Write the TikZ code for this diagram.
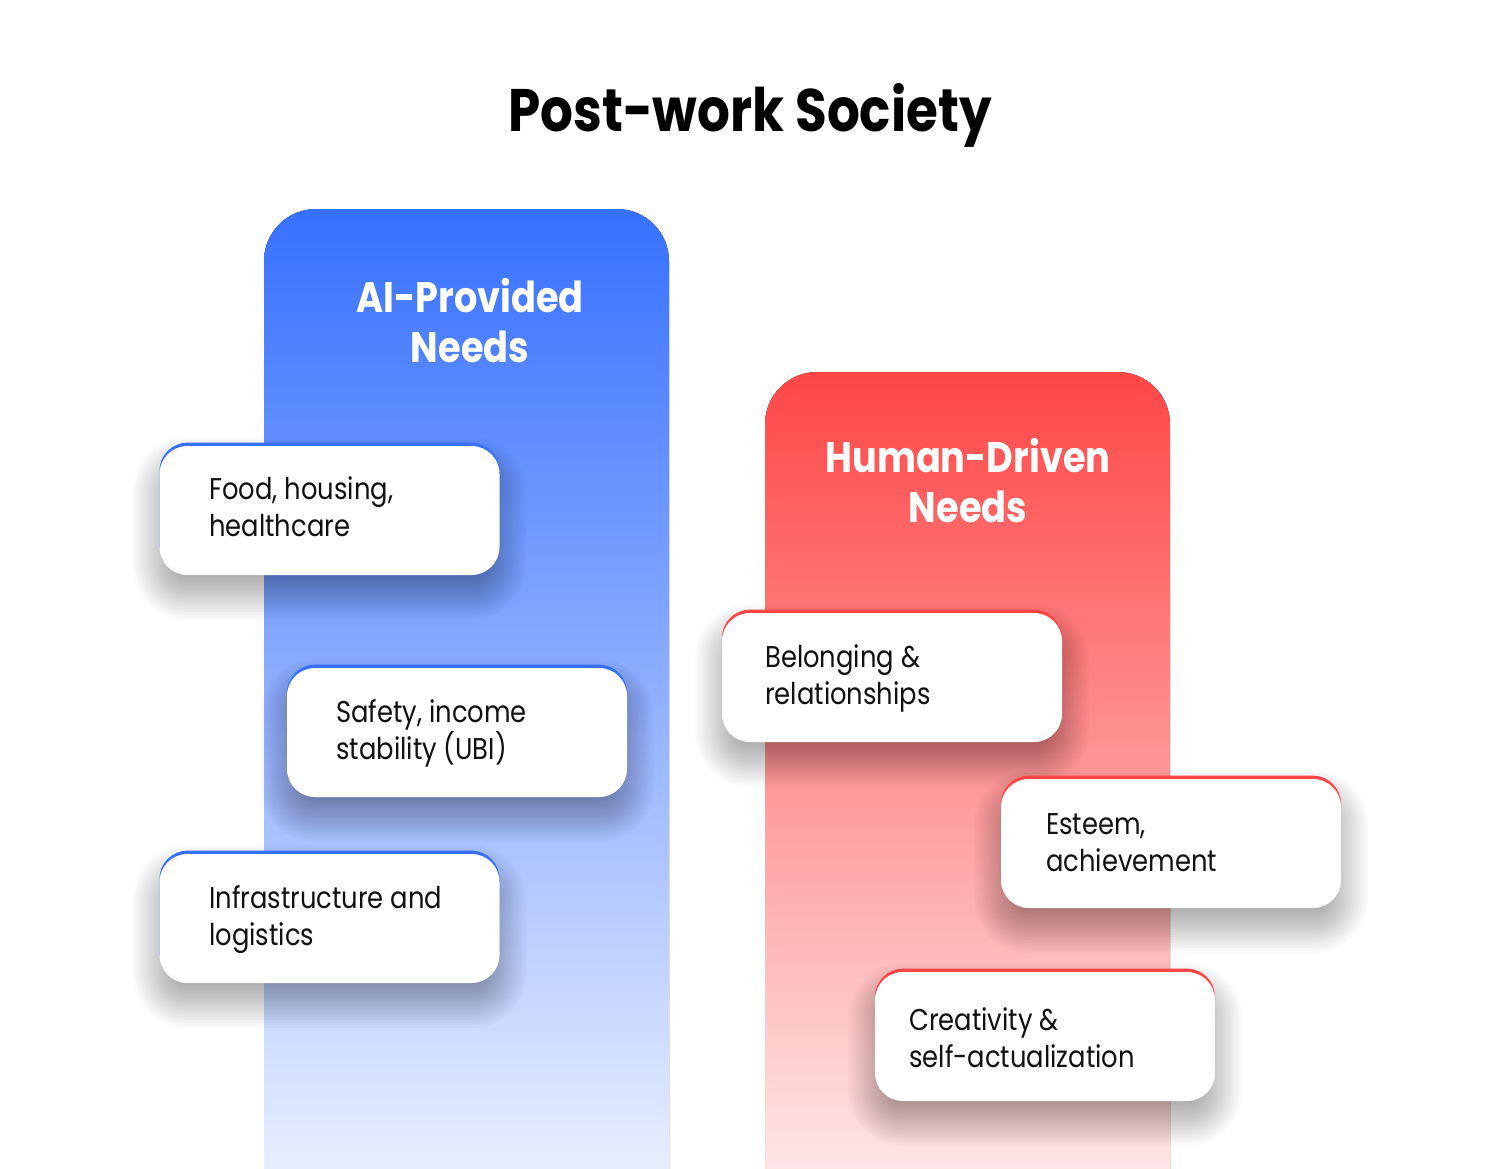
\documentclass[tikz,border=0pt]{standalone}
\usepackage{fontspec}
\setmainfont{Poppins}[FakeStretch=0.86]
\definecolor{aiblue}{RGB}{54,112,255}
\definecolor{aibluelight}{RGB}{244,247,255}
\definecolor{humanred}{RGB}{255,70,70}
\definecolor{humanredlight}{RGB}{255,244,244}
\definecolor{inkblack}{RGB}{17,17,17}
\pgfdeclarelayer{columns}
\pgfdeclarelayer{shade}
\pgfsetlayers{columns,shade,main}

\begin{document}
\begin{tikzpicture}[x=0.75pt, y=-0.75pt,
    column/.style={rounded corners=39pt},
    heading/.style={text=white, font=\bfseries\fontsize{32}{37.5}\selectfont, align=center, anchor=base, inner sep=0pt},
    card/.style={rectangle, rounded corners=21pt, fill=white, minimum width=255pt, minimum height=96.75pt, inner sep=0pt},
    aicard/.style={card, preaction={fill=aiblue, transform canvas={yshift=2.5pt}}},
    humancard/.style={card, preaction={fill=humanred, transform canvas={yshift=2.5pt}}},
    cardtext/.style={text=inkblack, font=\fontsize{22.5}{27.75}\selectfont, align=left, anchor=base west, inner sep=0pt},
    softshadow/.style={fill=black, fill opacity=0.02}
]
    % Frame
    \useasboundingbox (0,0) rectangle (1501,1168);
    \clip (0,0) rectangle (1501,1168);

    % Title
    \node[text=black, font=\bfseries\fontsize{45}{50}\selectfont, anchor=base, inner sep=0pt] (title) at (750,131) {Post-work Society};

    % Columns
    \begin{pgfonlayer}{columns}
        \fill[white] (0,0) rectangle (1501,1168);
        \fill[column, top color=aiblue, bottom color=aibluelight] (264,209) rectangle (669,1240);
        \fill[column, top color=humanred, bottom color=humanredlight] (765,372) rectangle (1170,1240);
    \end{pgfonlayer}
    \node[heading] (aihead) at (470,362) {AI-Provided\\Needs};
    \node[heading] (humanhead) at (968,522) {Human-Driven\\Needs};

    % AI-provided cards
    \node[aicard] (food) at (329.5,510.5) {};
    \node[cardtext] (foodtext) at (209,536) {Food, housing,\\healthcare};
    \node[aicard] (safety) at (457,732.5) {};
    \node[cardtext] (safetytext) at (336,759) {Safety, income\\stability (UBI)};
    \node[aicard] (infra) at (329.5,918.5) {};
    \node[cardtext] (infratext) at (209,945) {Infrastructure and\\logistics};

    % Human-driven cards
    \node[humancard] (belong) at (892,677.5) {};
    \node[cardtext] (belongtext) at (765,704) {Belonging \&\\relationships};
    \node[humancard] (esteem) at (1171,843.5) {};
    \node[cardtext] (esteemtext) at (1046,871) {Esteem,\\achievement};
    \node[humancard] (creative) at (1045,1036.5) {};
    \node[cardtext] (creativetext) at (909,1067) {Creativity \&\\self-actualization};

    % Shadows under the cards
    \begin{pgfonlayer}{shade}
        \foreach \card in {food,safety,infra,belong,esteem,creative}
            \foreach \e in {-16,-14,...,20} {
                \pgfmathsetmacro\rad{21+\e}
                \fill[softshadow, rounded corners=\rad pt]
                    ([xshift=-\e pt, yshift=-\e pt-13.5pt]\card.south west) rectangle
                    ([xshift=\e pt, yshift=\e pt-13.5pt]\card.north east);
            }
    \end{pgfonlayer}
\end{tikzpicture}
\end{document}
